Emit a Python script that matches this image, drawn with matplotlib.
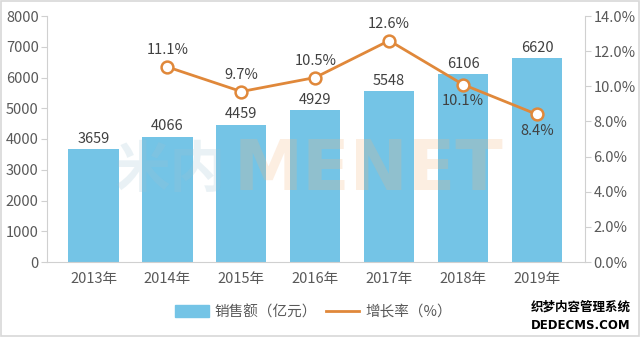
import matplotlib
matplotlib.use("Agg")
import matplotlib.pyplot as plt
from matplotlib.patches import Rectangle
from matplotlib.lines import Line2D

plt.rcParams['font.family'] = ['Noto Sans CJK SC', 'DejaVu Sans']

years = ["2013年", "2014年", "2015年", "2016年", "2017年", "2018年", "2019年"]
sales = [3659, 4066, 4459, 4929, 5548, 6106, 6620]
growth_years_idx = [1, 2, 3, 4, 5, 6]
growth = [11.1, 9.7, 10.5, 12.6, 10.1, 8.4]
growth_label_above = [True, True, True, True, False, False]
left_ticks = [0, 1000, 2000, 3000, 4000, 5000, 6000, 7000, 8000]
right_ticks = [0, 2, 4, 6, 8, 10, 12, 14]

bar_color = "#74C4E6"
line_color = "#E0883A"
text_color = "#595959"
axis_color = "#D0D0D0"

fig = plt.figure(figsize=(6.4, 3.37), dpi=100)
ax = fig.add_axes([47/640, 1-262/337, (585-47)/640, (262-16)/337])
ax2 = ax.twinx()

x = list(range(len(years)))
ax.bar(x, sales, width=0.68, color=bar_color, zorder=2)
for xi, v in zip(x, sales):
    ax.text(xi, v + 120, str(v), ha='center', va='bottom', fontsize=10.5, color="#404040")

ax.set_xlim(-0.63, 6.65)
ax.set_ylim(0, 8000)
ax.set_yticks(left_ticks)
ax.set_xticks(x)
ax.set_xticklabels(years)

ax2.plot(growth_years_idx, growth, color=line_color, lw=2, marker='o', ms=8.5,
         mfc='white', mec=line_color, mew=1.8, zorder=5)
for xi, g, above in zip(growth_years_idx, growth, growth_label_above):
    if above:
        ax2.text(xi, g + 0.55, f"{g}%", ha='center', va='bottom', fontsize=10.5, color="#404040")
    else:
        ax2.text(xi, g - 0.55, f"{g}%", ha='center', va='top', fontsize=10.5, color="#404040")
ax2.set_ylim(0, 14)
ax2.set_yticks(right_ticks)
ax2.set_yticklabels([f"{t:.1f}%" for t in right_ticks])

for a in (ax, ax2):
    for s in a.spines.values():
        s.set_visible(False)
    a.tick_params(colors=text_color, labelsize=10.5, length=4, width=0.8, color=axis_color)
ax.spines['left'].set_visible(True)
ax.spines['left'].set_color(axis_color)
ax.spines['bottom'].set_visible(True)
ax.spines['bottom'].set_color(axis_color)
ax2.spines['right'].set_visible(True)
ax2.spines['right'].set_color(axis_color)
ax.tick_params(axis='x', length=0, pad=7)
ax.tick_params(axis='y', pad=2)
ax2.tick_params(axis='y', pad=2)

# watermark
fig.text(226/640, 1-171/337, "米内", fontsize=40, fontweight='bold', color="#9FC3D3",
         alpha=0.22, ha='right', va='center', zorder=10)
fig.text(234/640, 1-171/337, "MENET", fontsize=50, fontweight='bold', color="#F5B27A",
         alpha=0.22, ha='left', va='center', zorder=10, family='DejaVu Sans')

handles = [Rectangle((0, 0), 1, 1, color=bar_color),
           Line2D([0], [0], color=line_color, lw=2)]
fig.legend(handles, ["销售额（亿元）", "增长率（%）"], loc='center', bbox_to_anchor=(0.49, 1-312/337),
           ncol=2, frameon=False, fontsize=10.5, labelcolor=text_color, handlelength=2.3,
           handleheight=0.9, columnspacing=0.6, handletextpad=0.4)

fig.text(0.985, 0.09, "织梦内容管理系统", fontsize=9, fontweight='bold', ha='right', va='center', color='black')
fig.text(0.985, 0.035, "DEDECMS.COM", fontsize=8.5, fontweight='bold', ha='right', va='center', color='black',
         family='DejaVu Sans')

fig.patches.append(Rectangle((0.002, 0.003), 0.996, 0.994, transform=fig.transFigure,
                             fill=False, ec="#D8D8D8", lw=1.2))

fig.savefig("out.png", dpi=100)
